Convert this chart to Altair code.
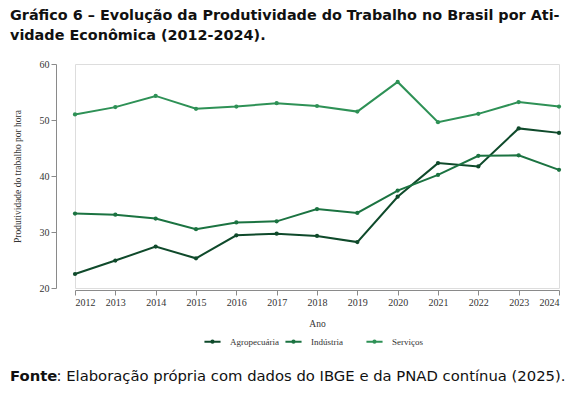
import altair as alt
import pandas as pd

anos = list(range(2012, 2025))
agropecuaria = [22.5, 24.9, 27.4, 25.3, 29.4, 29.7, 29.3, 28.2, 36.3, 42.3, 41.7, 48.5, 47.7]
industria = [33.3, 33.1, 32.4, 30.5, 31.7, 31.9, 34.1, 33.4, 37.4, 40.2, 43.6, 43.7, 41.1]
servicos = [51.0, 52.3, 54.3, 52.0, 52.4, 53.0, 52.5, 51.5, 56.8, 49.6, 51.1, 53.2, 52.4]

series = ["Agropecuária", "Indústria", "Serviços"]
cores = ["#0f4a2b", "#1b7341", "#2e9156"]

titulo = ["Gráfico 6 – Evolução da Produtividade do Trabalho no Brasil por Ati-",
          "vidade Econômica (2012-2024)."]
fonte_bold = "Fonte"
fonte_resto = ": Elaboração própria com dados do IBGE e da PNAD contínua (2025)."

rows = []
for nome, vals in zip(series, [agropecuaria, industria, servicos]):
    for a, v in zip(anos, vals):
        rows.append({"Ano": a, "Valor": v, "Setor": nome})
df = pd.DataFrame(rows)

SERIF = "Liberation Serif"
SANS = "DejaVu Sans"

simbolo = "M-1,0H1M-0.14,0A0.14,0.14,0,1,0,0.14,0A0.14,0.14,0,1,0,-0.14,0Z"

color = alt.Color(
    "Setor:N",
    scale=alt.Scale(domain=series, range=cores),
    legend=alt.Legend(
        title=None, orient="none", direction="horizontal",
        legendX=128, legendY=268,
        symbolType=simbolo, symbolSize=260, symbolStrokeWidth=2,
        labelFont=SERIF, labelFontSize=9, labelColor="#333333",
        labelOffset=8, columnPadding=2, gridAlign="all",
    ),
)

base = alt.Chart(df).encode(
    x=alt.X("Ano:Q",
            scale=alt.Scale(domain=[2012, 2024], nice=False, zero=False),
            axis=alt.Axis(values=anos, format="d", grid=False, offset=2,
                          domainColor="#8a8a8a", tickColor="#8a8a8a", tickSize=5,
                          labelFont=SERIF, labelFontSize=10, labelColor="#333333",
                          labelPadding=2, title="Ano", titleFont=SERIF,
                          titleFontSize=9.5, titleFontWeight="normal",
                          titleColor="#333333", titlePadding=11)),
    y=alt.Y("Valor:Q",
            scale=alt.Scale(domain=[20, 60], nice=False, zero=False),
            axis=alt.Axis(values=[20, 30, 40, 50, 60], grid=False, offset=19,
                          domainColor="#8a8a8a", tickColor="#8a8a8a", tickSize=5,
                          labelFont=SERIF, labelFontSize=10, labelColor="#333333",
                          labelPadding=2, title="Produtividade do trabalho por hora",
                          titleFont=SERIF, titleFontSize=9.5, titleFontWeight="normal",
                          titleColor="#333333", titlePadding=17)),
    color=color,
)

lines = base.mark_line(strokeWidth=2)
points = base.mark_point(filled=True, size=18, opacity=1)

t1 = alt.Chart(pd.DataFrame({"t": [titulo[0]]})).mark_text(
    align="left", baseline="alphabetic", font=SANS, fontSize=14.4, fontWeight="bold", color="#111111"
).encode(text="t:N", x=alt.value(-65), y=alt.value(-44))
t2 = alt.Chart(pd.DataFrame({"t": [titulo[1]]})).mark_text(
    align="left", baseline="alphabetic", font=SANS, fontSize=14.4, fontWeight="bold", color="#111111"
).encode(text="t:N", x=alt.value(-65), y=alt.value(-24))
f1 = alt.Chart(pd.DataFrame({"t": [fonte_bold]})).mark_text(
    align="left", baseline="alphabetic", font=SANS, fontSize=14.8, fontWeight="bold", color="#111111"
).encode(text="t:N", x=alt.value(-65), y=alt.value(317))
f2 = alt.Chart(pd.DataFrame({"t": [fonte_resto]})).mark_text(
    align="left", baseline="alphabetic", font=SANS, fontSize=14.8, color="#111111"
).encode(text="t:N", x=alt.value(-18.5), y=alt.value(317))

chart = alt.layer(lines, points, t1, t2, f1, f2).properties(
    width=484, height=224,
    autosize=alt.AutoSizeParams(type="none"),
    padding={"left": 67, "top": 56, "right": 15, "bottom": 99},
).configure_view(stroke=None).configure(background="white")

chart.save("out.html", embed_options={"renderer": "svg", "actions": False})
